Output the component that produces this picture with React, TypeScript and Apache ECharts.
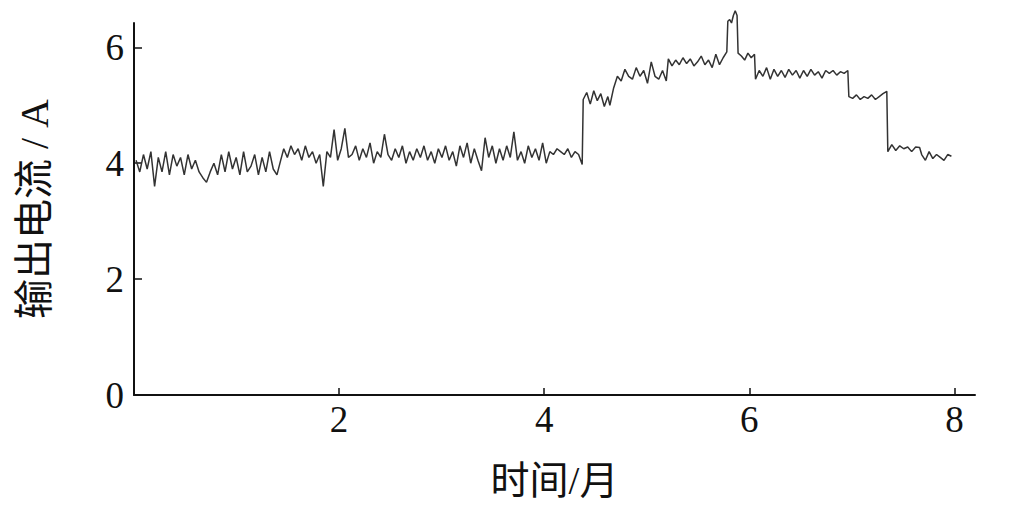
import React, { useEffect, useRef } from "react";
import * as echarts from "echarts";

// Output current (A) over time (months).
// Each segment: [startMonth, endMonth] and its sampled current values.
const seg1Range = [0.02, 1.43];
const seg1 = [4.05, 3.85, 4.15, 3.9, 4.2, 3.6, 4.1, 3.85, 4.2, 3.8, 4.15, 3.95, 4.1, 3.8, 4.15, 3.9, 4.05, 3.85, 3.75, 3.67, 3.85, 4.0, 3.8, 4.15, 3.85, 4.2, 3.9, 4.1, 3.8, 4.2, 3.85, 3.95, 4.15, 3.8, 4.1, 3.85, 4.2, 3.9, 3.8, 4.05];

const seg2Range = [1.46, 4.37];
const seg2 = [
  4.25, 4.1, 4.3, 4.15, 4.25, 4.05, 4.3, 4.1, 4.2, 4.0,
  4.15, 3.6, 4.2, 4.1, 4.58, 4.05, 4.25, 4.6, 4.1, 4.15,
  4.3, 4.05, 4.25, 4.1, 4.35, 4.0, 4.2, 4.1, 4.5, 4.15,
  4.05, 4.25, 4.1, 4.3, 4.0, 4.2, 4.05, 4.25, 4.1, 4.3,
  4.05, 4.2, 4.0, 4.25, 4.1, 4.3, 4.05, 4.2, 3.95, 4.3,
  4.1, 4.35, 4.0, 4.25, 4.05, 3.87, 4.44, 4.1, 4.3, 4.0,
  4.25, 4.05, 4.3, 4.1, 4.54, 4.05, 4.2, 4.0, 4.3, 4.1,
  4.25, 4.05, 4.35, 4.0, 4.2, 4.15, 4.25, 4.2, 4.15, 4.25,
  4.1, 4.2, 4.15, 3.98,
];

const seg3Range = [4.38, 4.62];
const seg3 = [5.1, 5.22, 5.02, 5.25, 5.08, 5.2, 4.98, 5.15];

const seg4Range = [4.64, 5.19];
const seg4 = [5.0, 5.3, 5.5, 5.42, 5.62, 5.5, 5.45, 5.65, 5.5, 5.6, 5.38, 5.75, 5.5, 5.45, 5.6, 5.42];

const seg5Range = [5.21, 5.78];
const seg5 = [5.8, 5.68, 5.78, 5.7, 5.82, 5.72, 5.8, 5.68, 5.75, 5.85, 5.7, 5.78, 5.65, 5.88, 5.7, 5.82, 5.92];

const seg6Range = [5.79, 5.88];
const seg6 = [6.45, 6.48, 6.42, 6.55, 6.63, 6.55];

const seg7Range = [5.89, 6.05];
const seg7 = [5.9, 5.85, 5.78, 5.9, 5.82, 5.88];

const seg8Range = [6.06, 6.96];
const seg8 = [5.45, 5.6, 5.5, 5.65, 5.45, 5.62, 5.5, 5.6, 5.48, 5.62, 5.52, 5.6, 5.47, 5.6, 5.5, 5.62, 5.52, 5.58, 5.47, 5.6, 5.55, 5.6, 5.52, 5.58, 5.55, 5.6];

const seg9Range = [6.97, 7.34];
const seg9 = [5.15, 5.12, 5.18, 5.1, 5.15, 5.12, 5.18, 5.1, 5.15, 5.2, 5.24];

const seg10Range = [7.35, 7.66];
const seg10 = [4.2, 4.32, 4.22, 4.3, 4.25, 4.28, 4.2, 4.28, 4.27];

const seg11Range = [7.68, 7.97];
const seg11 = [4.15, 4.05, 4.2, 4.08, 4.15, 4.1, 4.05, 4.15, 4.12];

const xTicks = [2, 4, 6, 8];
const yTicks = [0, 2, 4, 6];

const segments: [number[], number[]][] = [
  [seg1Range, seg1], [seg2Range, seg2], [seg3Range, seg3], [seg4Range, seg4],
  [seg5Range, seg5], [seg6Range, seg6], [seg7Range, seg7], [seg8Range, seg8],
  [seg9Range, seg9], [seg10Range, seg10], [seg11Range, seg11],
];

function buildData(): [number, number][] {
  const out: [number, number][] = [];
  for (const [range, vals] of segments) {
    const n = vals.length;
    for (let i = 0; i < n; i++) {
      const t = n > 1 ? range[0] + ((range[1] - range[0]) * i) / (n - 1) : range[0];
      out.push([t, vals[i]]);
    }
  }
  return out;
}

const FONT = '"Liberation Serif", "Times New Roman", "Noto Sans CJK SC", serif';

export default function App() {
  const ref = useRef<HTMLDivElement>(null);
  useEffect(() => {
    if (!ref.current) return;
    const chart = echarts.init(ref.current, undefined, { renderer: "svg" });
    chart.setOption({
      animation: false,
      backgroundColor: "#ffffff",
      grid: { left: 134, right: 36, top: 23, bottom: 108, containLabel: false },
      xAxis: {
        type: "value",
        min: 0,
        max: 8.2,
        interval: 2,
        name: "时间/月",
        nameLocation: "middle",
        nameGap: 66,
        nameTextStyle: { fontFamily: FONT, fontSize: 39, color: "#111" },
        axisLine: { show: true, lineStyle: { color: "#111", width: 2 } },
        axisTick: { show: true, inside: true, length: 7, customValues: xTicks, lineStyle: { color: "#111", width: 1.5 } },
        axisLabel: { customValues: xTicks, fontFamily: FONT, fontSize: 37, color: "#111", margin: 6 },
        splitLine: { show: false },
      },
      yAxis: {
        type: "value",
        min: 0,
        max: 6.42,
        interval: 2,
        name: "输出电流 / A",
        nameLocation: "middle",
        nameGap: 80,
        nameRotate: 90,
        nameTextStyle: { fontFamily: FONT, fontSize: 40, color: "#111" },
        axisLine: { show: true, lineStyle: { color: "#111", width: 2 } },
        axisTick: { show: true, inside: true, length: 8, customValues: [2, 4, 6], lineStyle: { color: "#111", width: 1.5 } },
        axisLabel: { customValues: yTicks, fontFamily: FONT, fontSize: 37, color: "#111", margin: 10 },
        splitLine: { show: false },
      },
      series: [
        {
          type: "line",
          data: buildData(),
          showSymbol: false,
          symbol: "none",
          clip: false,
          lineStyle: { color: "#333333", width: 1.5 },
        },
      ],
    });
    return () => chart.dispose();
  }, []);
  return (
    <div
      ref={ref}
      style={{ position: "absolute", left: 0, top: 0, width: 1011, height: 505, background: "#fff" }}
    />
  );
}
